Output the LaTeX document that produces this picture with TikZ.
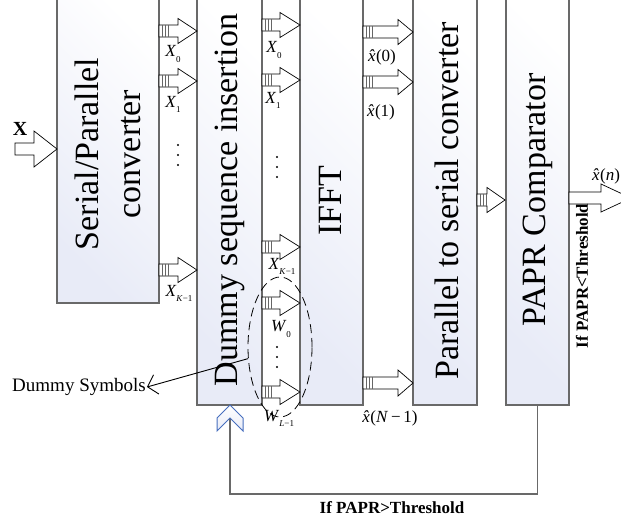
\documentclass[tikz,border=0pt]{standalone}
\usepackage{fontspec}
\setmainfont{Liberation Serif}
\usetikzlibrary{arrows.meta,shapes.geometric}
\definecolor{boxblue}{RGB}{232,235,247}
\definecolor{boxedge}{RGB}{105,105,105}
\definecolor{chevblue}{RGB}{70,110,190}
\newcommand\sbs[1]{\raisebox{-0.3em}{\fontsize{9}{9}\selectfont #1}}
\newcommand\hx{\makebox[0.47em][l]{\textit{x̂}}}
\newcommand\barrow[6]{%
  \draw[arrowline] ({#1},{#4-6}) -- ({#2},{#4-6}) -- ({#2},{#4-#5}) -- ({#3},{#4}) -- ({#2},{#4+#5}) -- ({#2},{#4+6}) -- ({#1},{#4+6}) -- cycle;
  \ifnum#6=1
    \foreach \s in {3,6,9} \draw[stripe] ({#1+\s},{#4-6}) -- ({#1+\s},{#4+6});
  \fi}
\newcommand\vdotsat[2]{\foreach \d in {-10,0,10} \fill ({#1},{#2+\d}) circle[radius=1.1pt];}
\begin{document}
\begin{tikzpicture}[x=1pt,y=-1pt,
  box/.style={draw=boxedge, line width=1.2pt, top color=white, bottom color=boxblue, shading angle=-45, inner sep=0pt},
  boxtext/.style={rotate=90, font=\fontsize{34}{42}\selectfont, align=center, inner sep=0pt},
  lab/.style={font=\fontsize{17}{17}\selectfont, inner sep=0pt},
  arrowline/.style={draw=black, fill=white, line width=0.7pt, line join=miter},
  stripe/.style={draw=black!60, line width=0.5pt},
  boldlab/.style={font=\fontsize{17}{17}\selectfont\bfseries, inner sep=0pt},
  fb/.style={draw=boxedge, line width=1.2pt},
  dashell/.style={draw, ellipse, dash pattern=on 9pt off 5pt, line width=0.8pt, minimum width=64pt, minimum height=140pt, inner sep=0pt}]
\useasboundingbox (0,0) rectangle (621,523);
\clip (0,0) rectangle (621,523);
% boxes
\node[box, minimum width=102pt, minimum height=316pt] (sp) at (108,145) {};
\node[box, minimum width=65pt, minimum height=420pt] (dsi) at (229.5,195) {};
\node[box, minimum width=63pt, minimum height=420pt] (ifft) at (331.5,195) {};
\node[box, minimum width=64pt, minimum height=420pt] (ps) at (445,195) {};
\node[box, minimum width=63pt, minimum height=420pt] (papr) at (537.5,195) {};
\node[boxtext] (spt) at (108,154) {Serial/Parallel\\converter};
\node[boxtext] (dsit) at (230,200) {Dummy sequence insertion};
\node[boxtext] (ifftt) at (330,201) {IFFT};
\node[boxtext] (pst) at (447,201) {Parallel to serial converter};
\node[boxtext] (paprt) at (538,200) {PAPR Comparator};
% input arrow
\barrow{15}{34}{57}{149}{18}{0}
\node[font=\fontsize{20}{20}\selectfont\bfseries, inner sep=0pt] (xin) at (20,129) {X};
% S/P -> DSI
\barrow{159}{178}{197}{31}{12.5}{1}
\barrow{159}{178}{197}{81}{12.5}{1}
\barrow{159}{178}{197}{270}{12.5}{1}
\node[lab] (a0) at (173,54) {\textit{X}\sbs{0}};
\node[lab] (a1) at (173,104) {\textit{X}\sbs{1}};
\vdotsat{178}{155}
\node[lab] (ak) at (179,293) {\textit{X}\sbs{\textit{K}−1}};
% DSI -> IFFT
\barrow{262}{280}{300}{25}{12.5}{1}
\barrow{262}{280}{300}{80}{12.5}{1}
\barrow{262}{280}{300}{247}{12.5}{1}
\barrow{262}{280}{300}{303}{12.5}{1}
\barrow{262}{280}{300}{392}{12.5}{1}
\node[lab] (b0) at (274,50) {\textit{X}\sbs{0}};
\node[lab] (b1) at (273,100) {\textit{X}\sbs{1}};
\vdotsat{277}{167}
\node[lab] (bk) at (282,266) {\textit{X}\sbs{\textit{K}−1}};
\node[lab] (w0) at (281,329) {\textit{W}\sbs{0}};
\vdotsat{277}{357}
\node[lab] (wl) at (279,418) {\textit{W}\sbs{\textit{L}−1}};
\node[dashell] (dummies) at (280,347) {};
% IFFT -> P/S
\barrow{363}{398}{413}{32}{12.5}{1}
\barrow{363}{398}{413}{82}{12.5}{1}
\barrow{363}{398}{413}{383}{13}{1}
\node[lab] (c0) at (382,57) {\hx(0)};
\node[lab] (c1) at (381,112) {\hx(1)};
\node[lab] (cn) at (390,418) {\hx(\textit{N}\,−\,1)};
% P/S -> PAPR
\barrow{477}{487}{505}{200}{12.5}{1}
% output
\barrow{569}{601}{631}{198}{14}{0}
\node[lab] (xn) at (606,176) {\hx(\textit{n})};
\node[boldlab, rotate=90] (lt) at (582,276) {If PAPR<Threshold};
% feedback
\coordinate (chevnotch) at (230,418);
\coordinate (fbl) at (230,494);
\draw[fb] (papr.south) |- (fbl) -- (chevnotch);
\draw[draw=chevblue, line width=1pt, top color=white, bottom color=boxblue] (230,405) -- (243,418) -- (243,431) -- (230,418) -- (217,431) -- (217,418) -- cycle;
\node[boldlab] (gt) at (392,508) {If PAPR>Threshold};
% dummy symbols
\node[font=\fontsize{19}{19}\selectfont, inner sep=1pt] (dsym) at (79,387) {Dummy Symbols};
\draw[line width=0.9pt, -{Straight Barb[length=9pt,width=20pt,line width=0.9pt]}] (dummies.200) -- (dsym.east);
\end{tikzpicture}
\end{document}
